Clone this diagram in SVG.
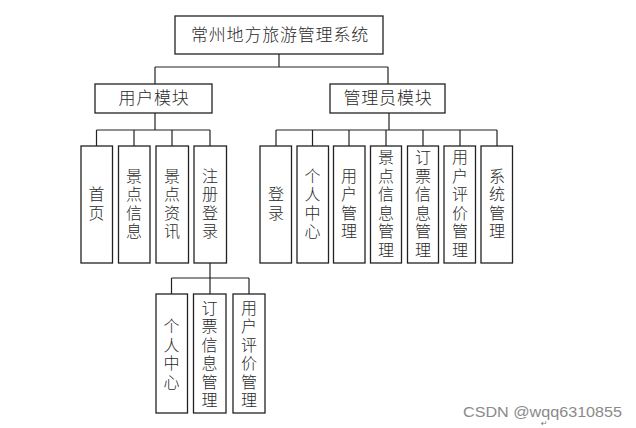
<svg xmlns="http://www.w3.org/2000/svg" width="636" height="428" viewBox="0 0 636 428">
<style>
.box{fill:#fff;stroke:#222;stroke-width:1.3}
.ln{fill:none;stroke:#222;stroke-width:1.2}
.t{font-family:"Noto Sans CJK SC","Liberation Sans",sans-serif;font-size:16px;fill:#2a2a2a;text-anchor:middle;font-weight:300}
.v{writing-mode:vertical-rl;letter-spacing:2.5px}
.h{font-size:17px;letter-spacing:0.8px}
.wm{font-family:"Liberation Sans",Arial,sans-serif;font-size:15px;fill:#8a8a8a}
</style>
<rect width="636" height="428" fill="#fff"/>
<g id="connectors">
<path class="ln" d="M279,54V67M155,67H388M155,67V84M388,67V84"/>
<path class="ln" d="M155,113V130M96.5,130H210M96.5,130V146M134,130V146M172,130V146M210,130V146"/>
<path class="ln" d="M389,113V130M276,130H497M276,130V146M312.5,130V146M349,130V146M386,130V146M423,130V146M460,130V146M497,130V146"/>
<path class="ln" d="M210,263V278M171.5,278H249M171.5,278V294M210,278V294M249,278V294"/>
</g>
<g id="root"><rect class="box" x="175" y="16" width="208" height="38"/><text class="t h" x="280" y="41">常州地方旅游管理系统</text></g>
<g id="user"><rect class="box" x="95" y="84" width="117" height="29"/><text class="t h" x="154" y="104">用户模块</text></g>
<g id="admin"><rect class="box" x="330" y="84" width="115" height="29"/><text class="t h" x="388" y="104">管理员模块</text></g>
<g id="u1"><rect class="box" x="81" y="146" width="31.5" height="117"/><text class="t v" x="96.5" y="204.5">首页</text></g>
<g id="u2"><rect class="box" x="118.5" y="146" width="31.5" height="117"/><text class="t v" x="134" y="204.5">景点信息</text></g>
<g id="u3"><rect class="box" x="156" y="146" width="32.5" height="117"/><text class="t v" x="172" y="204.5">景点资讯</text></g>
<g id="u4"><rect class="box" x="194" y="146" width="32.5" height="117"/><text class="t v" x="210" y="204.5">注册登录</text></g>
<g id="a1"><rect class="box" x="260" y="146" width="31.5" height="117"/><text class="t v" x="276" y="204.5">登录</text></g>
<g id="a2"><rect class="box" x="297" y="146" width="31.5" height="117"/><text class="t v" x="312.5" y="204.5">个人中心</text></g>
<g id="a3"><rect class="box" x="333.5" y="146" width="31.5" height="117"/><text class="t v" x="349" y="204.5">用户管理</text></g>
<g id="a4"><rect class="box" x="370.5" y="146" width="31" height="117"/><text class="t v" x="386" y="204.5">景点信息管理</text></g>
<g id="a5"><rect class="box" x="407.5" y="146" width="31" height="117"/><text class="t v" x="423" y="204.5">订票信息管理</text></g>
<g id="a6"><rect class="box" x="444" y="146" width="31.5" height="117"/><text class="t v" x="460" y="204.5">用户评价管理</text></g>
<g id="a7"><rect class="box" x="481" y="146" width="31.5" height="117"/><text class="t v" x="497" y="204.5">系统管理</text></g>
<g id="b1"><rect class="box" x="156" y="294" width="31.5" height="119"/><text class="t v" x="171.5" y="355">个人中心</text></g>
<g id="b2"><rect class="box" x="193.5" y="294" width="32.5" height="119"/><text class="t v" x="209.5" y="355">订票信息管理</text></g>
<g id="b3"><rect class="box" x="233" y="294" width="32" height="119"/><text class="t v" x="249" y="355">用户评价管理</text></g>
<text class="wm" x="463" y="417" textLength="159" lengthAdjust="spacingAndGlyphs">CSDN @wqq6310855</text>
<text x="541" y="426" font-family="DejaVu Sans,sans-serif" font-size="8" fill="#777">↵</text>
</svg>
